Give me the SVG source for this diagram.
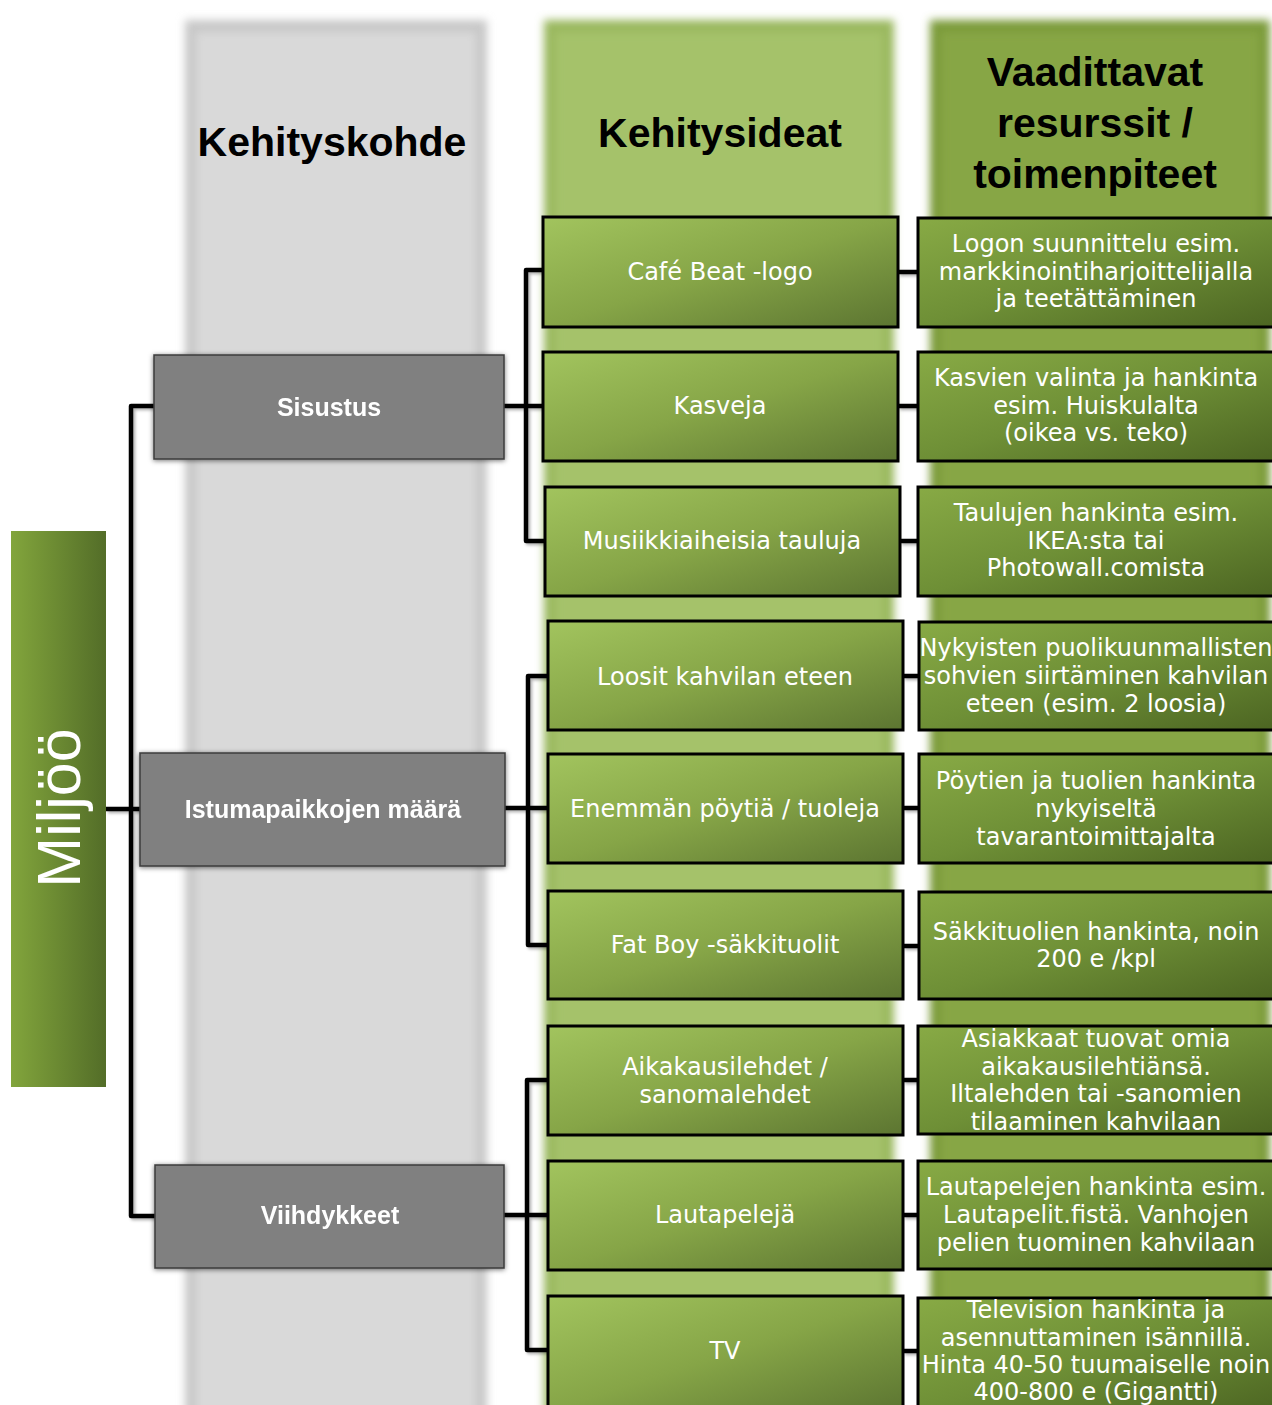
<svg xmlns="http://www.w3.org/2000/svg" width="1272" height="1405" viewBox="0 0 1272 1405">
  <defs>
    <linearGradient id="gIdea" x1="0" y1="0" x2="1" y2="1">
      <stop offset="0" stop-color="#a2c45e"/>
      <stop offset="0.5" stop-color="#86a547"/>
      <stop offset="1" stop-color="#5c7531"/>
    </linearGradient>
    <linearGradient id="gRes" x1="0" y1="0" x2="1" y2="1">
      <stop offset="0" stop-color="#88aa45"/>
      <stop offset="0.5" stop-color="#6e8f36"/>
      <stop offset="1" stop-color="#4c6522"/>
    </linearGradient>
    <linearGradient id="gRoot" x1="0" y1="0" x2="1" y2="0">
      <stop offset="0" stop-color="#82a53c"/>
      <stop offset="1" stop-color="#536d28"/>
    </linearGradient>
    <filter id="soft" x="-10%" y="-10%" width="120%" height="120%">
      <feGaussianBlur stdDeviation="4"/>
    </filter>
    <filter id="soft2" x="-10%" y="-10%" width="120%" height="120%">
      <feGaussianBlur stdDeviation="4"/>
    </filter>
    <filter id="boxShadow" x="-10%" y="-20%" width="120%" height="140%">
      <feDropShadow dx="0" dy="1" stdDeviation="2.5" flood-color="#000" flood-opacity="0.55"/>
    </filter>
    <filter id="lineShadow" x="-20%" y="-20%" width="140%" height="140%">
      <feDropShadow dx="2" dy="2" stdDeviation="1.5" flood-color="#000" flood-opacity="0.3"/>
    </filter>
    <style>
      .hdr { font-family: "Liberation Sans", Arial, sans-serif; font-weight: bold; font-size: 41px; fill: #000; text-anchor: middle; }
      .cat { fill: #808080; stroke: #3c3c3c; stroke-width: 1.5; }
      .catTxt { font-family: "Liberation Sans", Arial, sans-serif; font-weight: bold; font-size: 25px; fill: #fff; text-anchor: middle; }
      .idea { fill: url(#gIdea); stroke: #000; stroke-width: 3; }
      .res { fill: url(#gRes); stroke: #000; stroke-width: 3; }
      .txt { font-family: "DejaVu Sans", Verdana, sans-serif; font-size: 24px; fill: #fff; text-anchor: middle; }
      .conn { fill: none; stroke: #000; stroke-width: 4.5; stroke-linejoin: round; stroke-linecap: butt; }
    </style>
  </defs>

  <rect width="1272" height="1405" fill="#fff"/>

  <!-- column backdrops -->
  <g id="columns">
    <rect x="185" y="20" width="302" height="1420" fill="#c8c8c8" filter="url(#soft)"/>
    <rect x="196" y="32" width="280" height="1400" fill="#d9d9d9" filter="url(#soft2)"/>
    <rect x="544" y="20" width="350" height="1420" fill="#9ab85f" filter="url(#soft)"/>
    <rect x="555" y="32" width="328" height="1400" fill="#a5c26b" filter="url(#soft2)"/>
    <rect x="930" y="20" width="340" height="1420" fill="#7c9b3b" filter="url(#soft)"/>
    <rect x="941" y="32" width="318" height="1400" fill="#87a645" filter="url(#soft2)"/>
  </g>

  <!-- column headings -->
  <g id="headings">
    <text class="hdr" x="332" y="156">Kehityskohde</text>
    <text class="hdr" x="720" y="147">Kehitysideat</text>
    <text class="hdr" x="1095" y="86" font-size="42">Vaadittavat</text>
    <text class="hdr" x="1095" y="137" font-size="42">resurssit /</text>
    <text class="hdr" x="1095" y="188" font-size="42">toimenpiteet</text>
  </g>

  <!-- connectors -->
  <g id="connectors" class="conn" filter="url(#lineShadow)">
    <path d="M106 809 H140"/>
    <path d="M155 406 H131 V1216 H155"/>
    <path d="M504 406 H543"/>
    <path d="M543 270 H526 V541 H545"/>
    <path d="M505 808 H548"/>
    <path d="M548 676 H528 V945 H548"/>
    <path d="M504 1215 H548"/>
    <path d="M548 1080 H527 V1350 H548"/>
    <path d="M898 272 H918"/>
    <path d="M898 406 H918"/>
    <path d="M900 541 H918"/>
    <path d="M903 676 H918"/>
    <path d="M903 808 H918"/>
    <path d="M903 946 H918"/>
    <path d="M903 1080 H918"/>
    <path d="M903 1215 H918"/>
    <path d="M903 1351 H918"/>
  </g>

  <!-- root -->
  <g id="root">
    <rect x="11" y="531" width="95" height="556" fill="url(#gRoot)"/>
    <text transform="translate(80 808) rotate(-90)" font-family="Liberation Sans, Arial, sans-serif" font-size="61" fill="#fff" text-anchor="middle">Miljöö</text>
  </g>

  <!-- categories -->
  <g id="cat-sisustus" filter="url(#boxShadow)">
    <rect class="cat" x="154" y="355" width="350" height="104"/>
    <text class="catTxt" x="329" y="416">Sisustus</text>
  </g>
  <g id="cat-istumapaikat" filter="url(#boxShadow)">
    <rect class="cat" x="140" y="753" width="365" height="113"/>
    <text class="catTxt" x="323" y="818">Istumapaikkojen määrä</text>
  </g>
  <g id="cat-viihdykkeet" filter="url(#boxShadow)">
    <rect class="cat" x="155" y="1165" width="349" height="103"/>
    <text class="catTxt" x="330" y="1224">Viihdykkeet</text>
  </g>

  <!-- ideas -->
  <g id="idea-logo">
    <rect class="idea" x="543" y="217" width="355" height="110"/>
    <text class="txt" x="720" y="280">Café Beat -logo</text>
  </g>
  <g id="idea-kasveja">
    <rect class="idea" x="543" y="352" width="355" height="109"/>
    <text class="txt" x="720" y="414">Kasveja</text>
  </g>
  <g id="idea-taulut">
    <rect class="idea" x="545" y="487" width="355" height="109"/>
    <text class="txt" x="722" y="549">Musiikkiaiheisia tauluja</text>
  </g>
  <g id="idea-loosit">
    <rect class="idea" x="548" y="621" width="355" height="109"/>
    <text class="txt" x="725" y="685">Loosit kahvilan eteen</text>
  </g>
  <g id="idea-poydat">
    <rect class="idea" x="548" y="754" width="355" height="109"/>
    <text class="txt" x="725" y="817">Enemmän pöytiä / tuoleja</text>
  </g>
  <g id="idea-fatboy">
    <rect class="idea" x="548" y="891" width="355" height="108"/>
    <text class="txt" x="725" y="953">Fat Boy -säkkituolit</text>
  </g>
  <g id="idea-lehdet">
    <rect class="idea" x="548" y="1026" width="355" height="109"/>
    <text class="txt" x="725" y="1075">Aikakausilehdet /</text>
    <text class="txt" x="725" y="1103">sanomalehdet</text>
  </g>
  <g id="idea-lautapelit">
    <rect class="idea" x="548" y="1161" width="355" height="109"/>
    <text class="txt" x="725" y="1223">Lautapelejä</text>
  </g>
  <g id="idea-tv">
    <rect class="idea" x="548" y="1296" width="355" height="116"/>
    <text class="txt" x="725" y="1359">TV</text>
  </g>

  <!-- resources / actions -->
  <g id="res-logo">
    <rect class="res" x="918" y="218" width="357" height="109"/>
    <text class="txt" x="1096" y="252">Logon suunnittelu esim.</text>
    <text class="txt" x="1096" y="280">markkinointiharjoittelijalla</text>
    <text class="txt" x="1096" y="307">ja teetättäminen</text>
  </g>
  <g id="res-kasveja">
    <rect class="res" x="918" y="352" width="357" height="109"/>
    <text class="txt" x="1096" y="386">Kasvien valinta ja hankinta</text>
    <text class="txt" x="1096" y="414">esim. Huiskulalta</text>
    <text class="txt" x="1096" y="441">(oikea vs. teko)</text>
  </g>
  <g id="res-taulut">
    <rect class="res" x="918" y="487" width="357" height="109"/>
    <text class="txt" x="1096" y="521">Taulujen hankinta esim.</text>
    <text class="txt" x="1096" y="549">IKEA:sta tai</text>
    <text class="txt" x="1096" y="576">Photowall.comista</text>
  </g>
  <g id="res-loosit">
    <rect class="res" x="919" y="622" width="356" height="108"/>
    <text class="txt" x="1096" y="656">Nykyisten puolikuunmallisten</text>
    <text class="txt" x="1096" y="684">sohvien siirtäminen kahvilan</text>
    <text class="txt" x="1096" y="712">eteen (esim. 2 loosia)</text>
  </g>
  <g id="res-poydat">
    <rect class="res" x="919" y="754" width="356" height="109"/>
    <text class="txt" x="1096" y="789">Pöytien ja tuolien hankinta</text>
    <text class="txt" x="1096" y="817">nykyiseltä</text>
    <text class="txt" x="1096" y="845">tavarantoimittajalta</text>
  </g>
  <g id="res-fatboy">
    <rect class="res" x="919" y="892" width="356" height="107"/>
    <text class="txt" x="1096" y="940">Säkkituolien hankinta, noin</text>
    <text class="txt" x="1096" y="967">200 e /kpl</text>
  </g>
  <g id="res-lehdet">
    <rect class="res" x="918" y="1026" width="357" height="108"/>
    <text class="txt" x="1096" y="1047">Asiakkaat tuovat omia</text>
    <text class="txt" x="1096" y="1075">aikakausilehtiänsä.</text>
    <text class="txt" x="1096" y="1102">Iltalehden tai -sanomien</text>
    <text class="txt" x="1096" y="1130">tilaaminen kahvilaan</text>
  </g>
  <g id="res-lautapelit">
    <rect class="res" x="918" y="1161" width="357" height="108"/>
    <text class="txt" x="1096" y="1195">Lautapelejen hankinta esim.</text>
    <text class="txt" x="1096" y="1223">Lautapelit.fistä. Vanhojen</text>
    <text class="txt" x="1096" y="1251">pelien tuominen kahvilaan</text>
  </g>
  <g id="res-tv">
    <rect class="res" x="918" y="1298" width="357" height="116"/>
    <text class="txt" x="1096" y="1318">Television hankinta ja</text>
    <text class="txt" x="1096" y="1346">asennuttaminen isännillä.</text>
    <text class="txt" x="1096" y="1373">Hinta 40-50 tuumaiselle noin</text>
    <text class="txt" x="1096" y="1400">400-800 e (Gigantti)</text>
  </g>
</svg>
